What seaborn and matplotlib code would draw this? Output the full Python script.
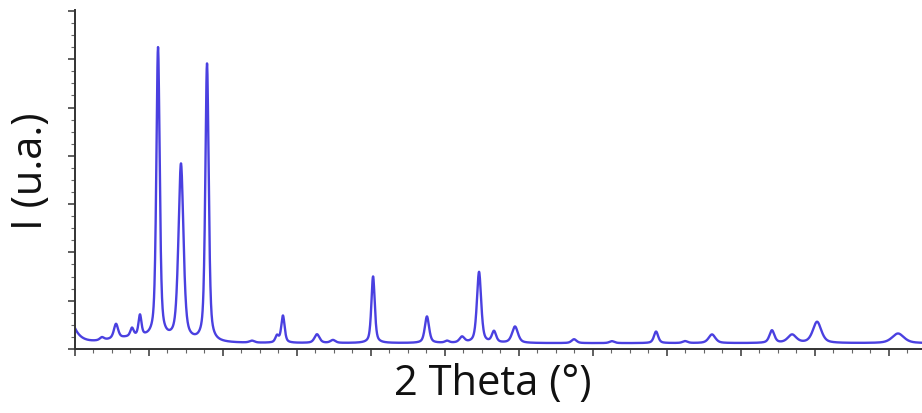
import numpy as np
import pandas as pd
import matplotlib
matplotlib.use("Agg")
import matplotlib.pyplot as plt
from matplotlib.ticker import MultipleLocator, NullFormatter
import seaborn as sns

# Reflection list: position (2θ, degrees), net intensity (counts), FWHM (degrees)
peak_pos = [6.82, 7.77, 8.85, 9.39, 10.61, 12.16, 13.92, 16.96, 18.65, 19.05,
            21.35, 22.43, 25.14, 28.78, 30.14, 31.15, 32.30, 33.31, 34.73,
            38.72, 41.28, 44.26, 46.22, 48.04, 52.09, 53.45, 55.14, 60.61]
peak_int = [60, 300, 170, 430, 6020, 3660, 5760, 40, 140, 560,
            180, 60, 1380, 550, 40, 120, 1470, 230, 340,
            80, 40, 240, 40, 180, 260, 170, 440, 200]
peak_fwhm = [0.34, 0.34, 0.27, 0.24, 0.27, 0.40, 0.27, 0.40, 0.27, 0.27,
             0.40, 0.40, 0.27, 0.34, 0.34, 0.40, 0.34, 0.34, 0.47,
             0.40, 0.40, 0.34, 0.40, 0.54, 0.40, 0.68, 0.68, 0.95]

# Background: flat level, low-angle rise and a weak broad hump
bkg_level = 120
low_angle_amp = 300
low_angle_decay = 0.45
hump_pos, hump_int, hump_fwhm = 9.0, 110, 4.0

two_theta = np.arange(5.0, 62.3, 0.01)


def pseudo_voigt(x, x0, h, w, eta=0.55):
    g = np.exp(-4 * np.log(2) * ((x - x0) / w) ** 2)
    l = 1.0 / (1.0 + 4 * ((x - x0) / w) ** 2)
    return h * (eta * l + (1 - eta) * g)


intensity = (bkg_level
             + low_angle_amp * np.exp(-(two_theta - 5.0) / low_angle_decay)
             + pseudo_voigt(two_theta, hump_pos, hump_int, hump_fwhm, eta=0.0))
for p, h, w in zip(peak_pos, peak_int, peak_fwhm):
    intensity = intensity + pseudo_voigt(two_theta, p, h, w)

df = pd.DataFrame({"2theta": two_theta, "I": intensity})

sns.set_theme(style="white")
plt.rcParams["font.family"] = ["Open Sans", "DejaVu Sans"]

fig = plt.figure(figsize=(9.22, 4.13), dpi=100)
ax = fig.add_axes([75 / 922, (413 - 349) / 413, 847 / 922, 339 / 413])

sns.lineplot(data=df, x="2theta", y="I", ax=ax, color="#4a40e0",
             linewidth=1.7, estimator=None, sort=False)

ax.set_xlim(5.0, 62.23)
ax.set_ylim(0, 7020)

ax.xaxis.set_major_locator(MultipleLocator(5))
ax.xaxis.set_minor_locator(MultipleLocator(1.25))
ax.yaxis.set_major_locator(MultipleLocator(1000))
ax.yaxis.set_minor_locator(MultipleLocator(250))
ax.xaxis.set_major_formatter(NullFormatter())
ax.yaxis.set_major_formatter(NullFormatter())

ax.tick_params(axis="both", which="major", direction="out", length=5,
               width=1.2, color="#444444", bottom=True, left=True)
ax.tick_params(axis="both", which="minor", direction="out", length=3,
               width=0.8, color="#666666", bottom=True, left=True)

for side in ("top", "right"):
    ax.spines[side].set_visible(False)
for side in ("left", "bottom"):
    ax.spines[side].set_color("#333333")
    ax.spines[side].set_linewidth(1.4)

ax.set_xlabel("")
ax.set_ylabel("")
fig.text(493 / 922, 1 - 384 / 413, "2 Theta (°)", fontsize=30,
         ha="center", va="center", color="#111111")
fig.text(31 / 922, 1 - 171 / 413, "I (u.a.)", fontsize=30, rotation=90,
         ha="center", va="center", color="#111111")

fig.savefig("out.png", dpi=100, facecolor="white")
